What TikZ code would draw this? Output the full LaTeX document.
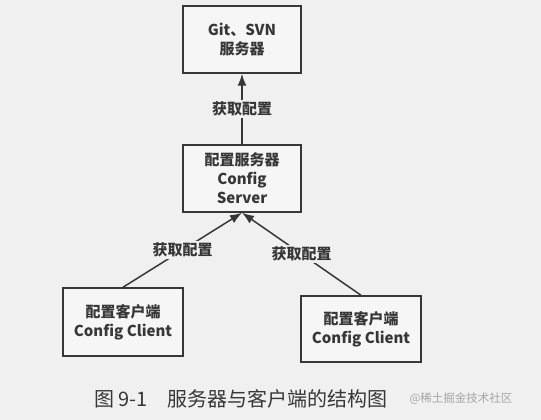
\documentclass[tikz,border=0pt]{standalone}
\usepackage{fontspec}
\setmainfont{Noto Sans CJK SC}
\usetikzlibrary{arrows.meta}
\definecolor{ink}{RGB}{55,55,55}
\definecolor{paper}{RGB}{240,240,240}
\definecolor{boxbg}{RGB}{246,246,246}
\tikzset{
  box/.style={draw=ink, line width=1.5pt, fill=boxbg, minimum width=118pt, minimum height=67pt,
    align=center, text=ink, font=\fontsize{15}{19}\selectfont\bfseries, inner sep=0pt},
  link/.style={draw=ink, line width=1.5pt, -{Latex[length=12pt,width=9pt]}},
  lab/.style={fill=paper, text=ink, font=\fontsize{15}{18}\selectfont\bfseries, inner sep=2pt}
}
\begin{document}
\begin{tikzpicture}[x=1pt,y=-1pt]
\fill[paper] (0,0) rectangle (541,420);
\useasboundingbox (0,0) rectangle (541,420);
\node[box] (top) at (242,39.5) {Git、SVN\\服务器};
\node[box] (mid) at (242,178.5) {配置服务器\\Config\\Server};
\node[box, minimum width=120pt, minimum height=68pt] (left) at (123,322) {配置客户端\\Config Client};
\node[box, minimum width=120pt, minimum height=66pt] (right) at (361,329) {配置客户端\\Config Client};
\draw[link] (mid.north) -- node[lab] (l1) {获取配置} (top.south);
\draw[link] (left.north) -- node[lab] (l2) {获取配置} (mid.south);
\draw[link] (right.north) -- node[lab] (l3) {获取配置} (mid.south);
\node[text=ink, font=\fontsize{20}{24}\selectfont, anchor=center] (cap) at (241,399) {图 9-1\hspace{1em}服务器与客户端的结构图};
\node[text=gray!70, font=\fontsize{11.5}{14}\selectfont, anchor=center] (wm) at (461,399) {@稀土掘金技术社区};
\end{tikzpicture}
\end{document}
